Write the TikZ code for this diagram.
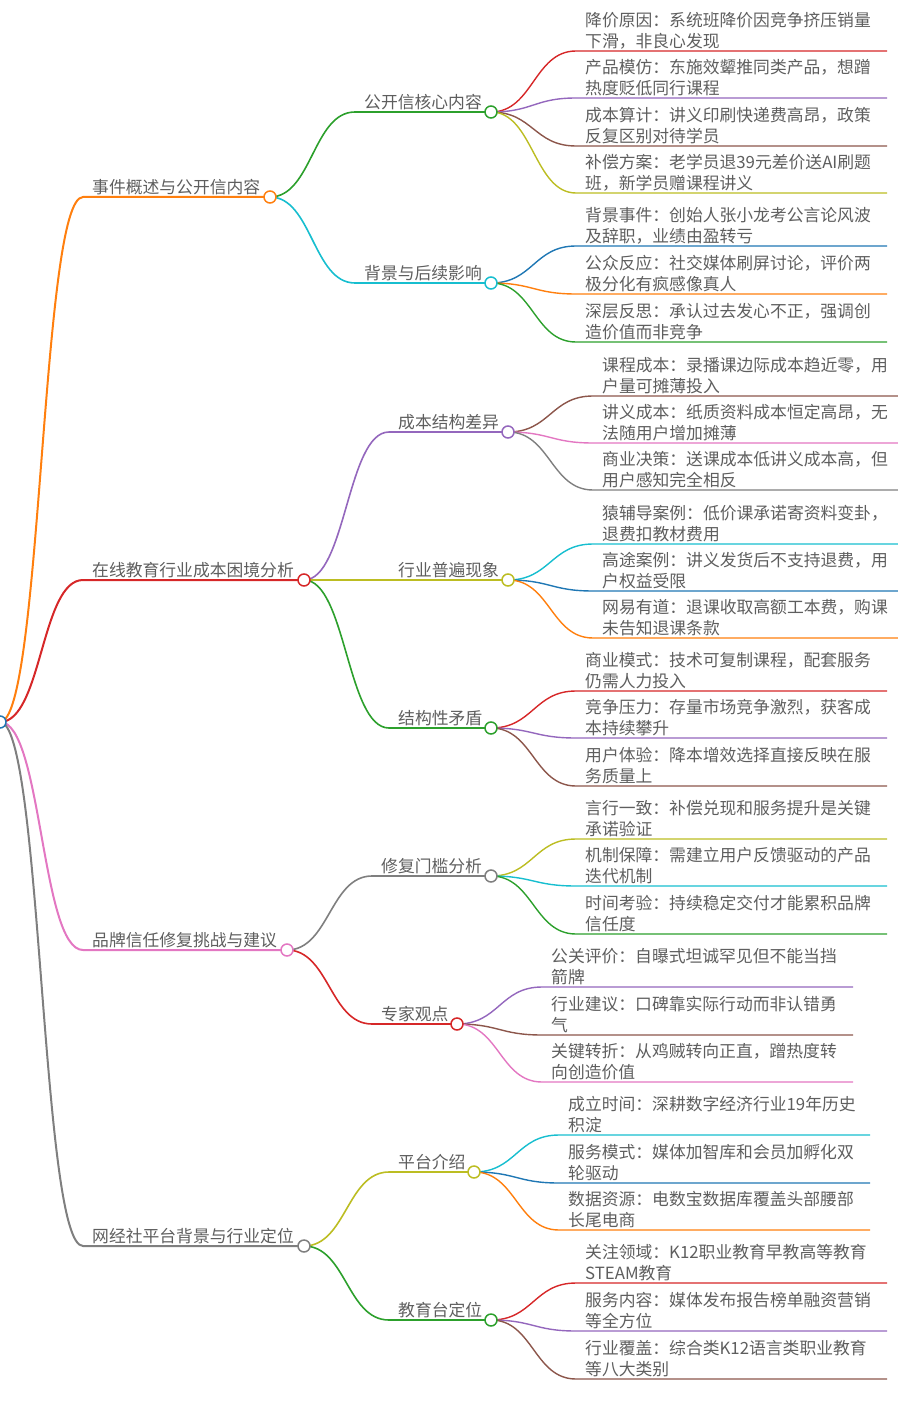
\documentclass[tikz,border=0pt]{standalone}
\usepackage{fontspec}
\newfontfamily\cjk{Noto Sans CJK SC}
\definecolor{cBlue}{HTML}{1F77B4}
\definecolor{cOrange}{HTML}{FF7F0E}
\definecolor{cGreen}{HTML}{2CA02C}
\definecolor{cRed}{HTML}{D62728}
\definecolor{cPurple}{HTML}{9467BD}
\definecolor{cBrown}{HTML}{8C564B}
\definecolor{cPink}{HTML}{E377C2}
\definecolor{cGray}{HTML}{7F7F7F}
\definecolor{cOlive}{HTML}{BCBD22}
\definecolor{cCyan}{HTML}{17BECF}
\definecolor{txt}{HTML}{5E5E5E}
\pgfdeclarelayer{bg}
\pgfsetlayers{bg,main}
\tikzset{
  mmtext/.style={font=\cjk\fontsize{16.8}{21}\selectfont, text=txt, inner sep=0pt, anchor=base west, align=left},
  dot/.style={circle, draw=#1, fill=white, minimum size=12pt, inner sep=0pt, line width=1.5pt},
  lk1/.style={draw=#1, line width=2pt},
  lk2/.style={draw=#1, line width=1.6pt},
  lk3/.style={draw=#1, line width=1.4pt},
}
% #1 parent, #2 name, #3 start x, #4 y, #5 circle x, #6 colour, #7 link style, #8 text
\newcommand\mmbranch[8]{%
  \coordinate (#2s) at (#3,#4);
  \node[mmtext] (#2t) at ({#3+9},{#4-3.2}) {#8};
  \node[dot=#6] (#2) at (#5,#4) {};
  \begin{pgfonlayer}{bg}
  \draw[#7=#6] (#1.center) .. controls +(42,0) and +(-42,0) .. (#2s) -- (#2.center);
  \end{pgfonlayer}
}
% #1 parent, #2 name, #3 start x, #4 y, #5 colour, #6 text
\newcommand\mmleaf[6]{%
  \coordinate (#2s) at (#3,#4);
  \coordinate (#2e) at ({#3+311},#4);
  \node[mmtext] (#2) at ({#3+9},{#4-3.2}) {#6};
  \begin{pgfonlayer}{bg}
  \draw[lk3=#5] (#1.center) .. controls +(42,0) and +(-42,0) .. (#2s) -- (#2e);
  \end{pgfonlayer}
}
\begin{document}
\begin{tikzpicture}[x=1pt,y=-1pt]
\path[use as bounding box] (0,0) rectangle (897,1404);
\node[dot=cBlue] (root) at (0,722) {};

\mmbranch{root}{a}{83}{197}{270}{cOrange}{lk1}{事件概述与公开信内容}
\mmbranch{root}{b}{83}{580}{304}{cRed}{lk1}{在线教育行业成本困境分析}
\mmbranch{root}{c}{83}{950}{287}{cPink}{lk1}{品牌信任修复挑战与建议}
\mmbranch{root}{d}{83}{1246}{304}{cGray}{lk1}{网经社平台背景与行业定位}

\mmbranch{a}{aa}{355}{112}{491}{cGreen}{lk2}{公开信核心内容}
\mmbranch{a}{ab}{355}{283}{491}{cCyan}{lk2}{背景与后续影响}
\mmbranch{b}{ba}{389}{432}{508}{cPurple}{lk2}{成本结构差异}
\mmbranch{b}{bb}{389}{580}{508}{cOlive}{lk2}{行业普遍现象}
\mmbranch{b}{bc}{389}{728}{491}{cGreen}{lk2}{结构性矛盾}
\mmbranch{c}{ca}{372}{876}{491}{cGray}{lk2}{修复门槛分析}
\mmbranch{c}{cb}{372}{1024}{457}{cRed}{lk2}{专家观点}
\mmbranch{d}{da}{389}{1172}{474}{cOlive}{lk2}{平台介绍}
\mmbranch{d}{db}{389}{1320}{491}{cGreen}{lk2}{教育台定位}

\mmleaf{aa}{aal1}{576}{51}{cRed}{降价原因：系统班降价因竞争挤压销量\\下滑，非良心发现}
\mmleaf{aa}{aal2}{576}{98}{cPurple}{产品模仿：东施效颦推同类产品，想蹭\\热度贬低同行课程}
\mmleaf{aa}{aal3}{576}{146}{cBrown}{成本算计：讲义印刷快递费高昂，政策\\反复区别对待学员}
\mmleaf{aa}{aal4}{576}{193}{cOlive}{补偿方案：老学员退39元差价送AI刷题\\班，新学员赠课程讲义}

\mmleaf{ab}{abl1}{576}{246}{cBlue}{背景事件：创始人张小龙考公言论风波\\及辞职，业绩由盈转亏}
\mmleaf{ab}{abl2}{576}{294}{cOrange}{公众反应：社交媒体刷屏讨论，评价两\\极分化有疯感像真人}
\mmleaf{ab}{abl3}{576}{342}{cGreen}{深层反思：承认过去发心不正，强调创\\造价值而非竞争}

\mmleaf{ba}{bal1}{593}{396}{cBrown}{课程成本：录播课边际成本趋近零，用\\户量可摊薄投入}
\mmleaf{ba}{bal2}{593}{443}{cPink}{讲义成本：纸质资料成本恒定高昂，无\\法随用户增加摊薄}
\mmleaf{ba}{bal3}{593}{490}{cGray}{商业决策：送课成本低讲义成本高，但\\用户感知完全相反}

\mmleaf{bb}{bbl1}{593}{544}{cCyan}{猿辅导案例：低价课承诺寄资料变卦，\\退费扣教材费用}
\mmleaf{bb}{bbl2}{593}{591}{cBlue}{高途案例：讲义发货后不支持退费，用\\户权益受限}
\mmleaf{bb}{bbl3}{593}{638}{cOrange}{网易有道：退课收取高额工本费，购课\\未告知退课条款}

\mmleaf{bc}{bcl1}{576}{691}{cRed}{商业模式：技术可复制课程，配套服务\\仍需人力投入}
\mmleaf{bc}{bcl2}{576}{738}{cPurple}{竞争压力：存量市场竞争激烈，获客成\\本持续攀升}
\mmleaf{bc}{bcl3}{576}{786}{cBrown}{用户体验：降本增效选择直接反映在服\\务质量上}

\mmleaf{ca}{cal1}{576}{839}{cOlive}{言行一致：补偿兑现和服务提升是关键\\承诺验证}
\mmleaf{ca}{cal2}{576}{886}{cCyan}{机制保障：需建立用户反馈驱动的产品\\迭代机制}
\mmleaf{ca}{cal3}{576}{934}{cGreen}{时间考验：持续稳定交付才能累积品牌\\信任度}

\mmleaf{cb}{cbl1}{542}{987}{cPurple}{公关评价：自曝式坦诚罕见但不能当挡\\箭牌}
\mmleaf{cb}{cbl2}{542}{1035}{cBrown}{行业建议：口碑靠实际行动而非认错勇\\气}
\mmleaf{cb}{cbl3}{542}{1082}{cPink}{关键转折：从鸡贼转向正直，蹭热度转\\向创造价值}

\mmleaf{da}{dal1}{559}{1135}{cCyan}{成立时间：深耕数字经济行业19年历史\\积淀}
\mmleaf{da}{dal2}{559}{1183}{cBlue}{服务模式：媒体加智库和会员加孵化双\\轮驱动}
\mmleaf{da}{dal3}{559}{1230}{cOrange}{数据资源：电数宝数据库覆盖头部腰部\\长尾电商}

\mmleaf{db}{dbl1}{576}{1283}{cRed}{关注领域：K12职业教育早教高等教育\\STEAM教育}
\mmleaf{db}{dbl2}{576}{1331}{cPurple}{服务内容：媒体发布报告榜单融资营销\\等全方位}
\mmleaf{db}{dbl3}{576}{1379}{cBrown}{行业覆盖：综合类K12语言类职业教育\\等八大类别}
\end{tikzpicture}
\end{document}
